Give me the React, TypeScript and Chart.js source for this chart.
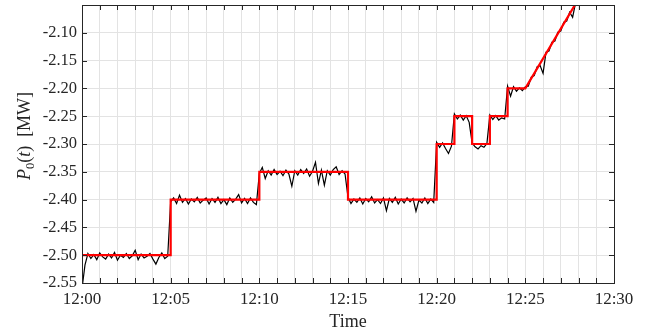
import React, { useEffect, useRef } from "react";
import { Chart, registerables } from "chart.js";

Chart.register(...registerables);

// Reference set-point (red), times in minutes after 12:00
const referenceTimes = [0, 5, 5, 10, 10, 15, 15, 20, 20, 21, 21, 22, 22, 23, 23, 24, 24, 25, 28];
const referenceValues = [
  -2.5, -2.5, -2.4, -2.4, -2.35, -2.35, -2.4, -2.4, -2.3, -2.3, -2.25, -2.25, -2.3, -2.3, -2.25, -2.25,
  -2.2, -2.2, -2.039,
];

// Measured power (black), one sample every 10 s starting at 12:00
const sampleStepMinutes = 1 / 6;
const measuredValues = [
  -2.56, -2.518, -2.497, -2.506, -2.499, -2.508, -2.496, -2.503, -2.507, -2.498,
  -2.505, -2.495, -2.509, -2.5, -2.504, -2.497, -2.506, -2.501, -2.491, -2.508,
  -2.498, -2.505, -2.502, -2.497, -2.507, -2.516, -2.504, -2.496, -2.506, -2.502,
  -2.404, -2.397, -2.407, -2.392, -2.405, -2.398, -2.408, -2.399, -2.404, -2.396,
  -2.406, -2.401, -2.397, -2.408, -2.398, -2.405, -2.396, -2.407, -2.4, -2.409,
  -2.397, -2.405, -2.399, -2.391, -2.406, -2.398, -2.407, -2.397, -2.405, -2.409,
  -2.353, -2.342, -2.362, -2.348, -2.356, -2.346, -2.355, -2.349, -2.357, -2.347,
  -2.354, -2.376, -2.348, -2.356, -2.346, -2.353, -2.345, -2.358, -2.349, -2.333,
  -2.371, -2.347, -2.374, -2.348, -2.356, -2.346, -2.341, -2.355, -2.348, -2.354,
  -2.396, -2.407, -2.399, -2.405, -2.397, -2.408, -2.398, -2.404, -2.395, -2.406,
  -2.4, -2.407, -2.397, -2.42, -2.398, -2.405, -2.396, -2.408, -2.399, -2.406,
  -2.397, -2.404, -2.398, -2.421, -2.401, -2.406, -2.397, -2.407, -2.399, -2.405,
  -2.297, -2.306, -2.298, -2.308, -2.317, -2.304,
  -2.246, -2.255, -2.248, -2.257, -2.249, -2.261,
  -2.298, -2.305, -2.309, -2.303, -2.306, -2.299,
  -2.248, -2.256, -2.249, -2.257, -2.253, -2.255,
  -2.196, -2.214, -2.197, -2.205, -2.199, -2.204,
  -2.197, -2.196, -2.18, -2.177, -2.161, -2.159, -2.173, -2.135, -2.133, -2.117,
  -2.115, -2.099, -2.097, -2.081, -2.079, -2.063, -2.072, -2.046, -2.041,
];

const xMin = 0;
const xMax = 30;
const yMin = -2.55;
const yMax = -2.05;
const yStep = 0.05;
const xStep = 1;
const xLabelEvery = 5;
const yTitleParts = [
  { text: "P", italic: true, sub: false },
  { text: "0", italic: false, sub: true },
  { text: "(", italic: false, sub: false },
  { text: "t", italic: true, sub: false },
  { text: ")", italic: false, sub: false },
  { text: "  [MW]", italic: false, sub: false },
];

const FONT = "'Liberation Serif', 'Times New Roman', serif";
const AXIS_COLOR = "#262626";

const frameAndTicks = {
  id: "frameAndTicks",
  afterDraw(chart: any) {
    const { ctx, chartArea } = chart;
    const { left, right, top, bottom } = chartArea;
    const xs = chart.scales.x;
    const ys = chart.scales.y;
    ctx.save();
    ctx.strokeStyle = AXIS_COLOR;
    ctx.lineWidth = 1;
    ctx.beginPath();
    const tl = 5;
    xs.ticks.forEach((t: any) => {
      const px = Math.round(xs.getPixelForValue(t.value)) + 0.5;
      ctx.moveTo(px, bottom);
      ctx.lineTo(px, bottom - tl);
      ctx.moveTo(px, top);
      ctx.lineTo(px, top + tl);
    });
    ys.ticks.forEach((t: any) => {
      const py = Math.round(ys.getPixelForValue(t.value)) + 0.5;
      ctx.moveTo(left, py);
      ctx.lineTo(left + tl, py);
      ctx.moveTo(right, py);
      ctx.lineTo(right - tl, py);
    });
    ctx.stroke();
    ctx.strokeRect(Math.round(left) + 0.5, Math.round(top) + 0.5, Math.round(right - left), Math.round(bottom - top));

    // y-axis title with math styling
    const size = 18;
    const subSize = 12.5;
    const fontFor = (p: any) => `${p.italic ? "italic " : ""}${p.sub ? subSize : size}px ${FONT}`;
    let total = 0;
    yTitleParts.forEach((p) => {
      ctx.font = fontFor(p);
      total += ctx.measureText(p.text).width;
    });
    ctx.translate(30, (top + bottom) / 2 - 8);
    ctx.rotate(-Math.PI / 2);
    ctx.fillStyle = AXIS_COLOR;
    ctx.textBaseline = "alphabetic";
    ctx.textAlign = "left";
    let x = -total / 2;
    yTitleParts.forEach((p) => {
      ctx.font = fontFor(p);
      ctx.fillText(p.text, x, p.sub ? 4 : 0);
      x += ctx.measureText(p.text).width;
    });
    ctx.restore();
  },
};

export default function App() {
  const ref = useRef<HTMLCanvasElement | null>(null);
  useEffect(() => {
    document.body.style.margin = "0";
    const canvas = ref.current;
    if (!canvas) return;
    const refData = referenceTimes.map((t, i) => ({ x: t, y: referenceValues[i] }));
    const measData = measuredValues.map((v, i) => ({ x: i * sampleStepMinutes, y: v }));
    const chart = new Chart(canvas, {
      type: "line",
      data: {
        datasets: [
          {
            label: "reference",
            data: refData,
            borderColor: "#ff0000",
            borderWidth: 2.2,
            pointRadius: 0,
            tension: 0,
            clip: 0,
            order: 0,
          },
          {
            label: "measured",
            data: measData,
            borderColor: "#000000",
            borderWidth: 1.2,
            pointRadius: 0,
            tension: 0,
            clip: 0,
            order: 1,
          },
        ],
      },
      options: {
        responsive: false,
        animation: false,
        events: [],
        layout: { padding: { left: 0, right: 41, top: 5, bottom: 0 } },
        plugins: { legend: { display: false }, tooltip: { enabled: false }, title: { display: false } },
        scales: {
          x: {
            type: "linear",
            min: xMin,
            max: xMax,
            afterFit(scale: any) {
              scale.height = 50;
              scale.paddingLeft = 0;
              scale.paddingRight = 0;
            },
            ticks: {
              stepSize: xStep,
              autoSkip: false,
              maxRotation: 0,
              minRotation: 0,
              padding: 6,
              color: AXIS_COLOR,
              font: { family: FONT, size: 17 },
              callback: (v: any) => {
                const n = Math.round(Number(v));
                return n % xLabelEvery === 0 ? `12:${String(n).padStart(2, "0")}` : "";
              },
            },
            grid: { color: "#e3e3e3", lineWidth: 1, drawTicks: false },
            border: { display: false },
            title: {
              display: true,
              text: "Time",
              color: AXIS_COLOR,
              font: { family: FONT, size: 18 },
              padding: { top: 0, bottom: 0 },
            },
          },
          y: {
            type: "linear",
            min: yMin,
            max: yMax,
            afterFit(scale: any) {
              scale.width = 82;
              scale.paddingTop = 0;
              scale.paddingBottom = 0;
            },
            ticks: {
              stepSize: yStep,
              padding: 5,
              color: AXIS_COLOR,
              font: { family: FONT, size: 16.5 },
              callback: (v: any) => {
                const n = Number(v);
                if (Math.abs(n - yMax) < 1e-6) return "";
                return n.toFixed(2);
              },
            },
            grid: { color: "#e3e3e3", lineWidth: 1, drawTicks: false },
            border: { display: false },
          },
        },
      },
      plugins: [frameAndTicks],
    });
    return () => chart.destroy();
  }, []);
  return (
    <div style={{ width: 655, height: 333, background: "#fff" }}>
      <canvas ref={ref} width={655} height={333} style={{ display: "block" }} />
    </div>
  );
}
